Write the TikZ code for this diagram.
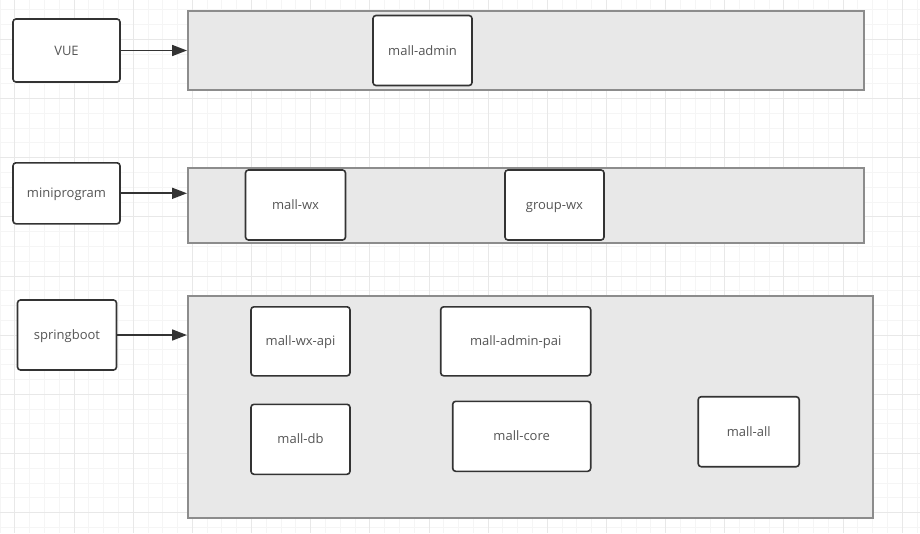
\documentclass[tikz,border=0pt]{standalone}
\usepackage{fontspec}
\setmainfont{Open Sans}
\usetikzlibrary{arrows.meta, positioning, calc}
\definecolor{gridminor}{RGB}{245,245,245}
\definecolor{gridmajor}{RGB}{232,232,232}
\definecolor{layerfill}{RGB}{232,232,232}
\definecolor{layerline}{RGB}{140,140,140}
\definecolor{boxline}{RGB}{51,51,51}
\definecolor{labeltext}{RGB}{85,85,85}

\begin{document}
\begin{tikzpicture}[
            x=1pt, y=-1pt,
            minorline/.style={gridminor, line width=1pt},
            majorline/.style={gridmajor, line width=1pt},
            layer/.style={draw=layerline, line width=2pt, fill=layerfill, rectangle},
            module/.style={draw=boxline, line width=1.6pt, fill=white, rounded corners=3pt,
                text=labeltext, font=\fontsize{13}{15}\selectfont,
                text height=0.9em, text depth=0pt},
            link/.style={-{Triangle[length=15pt, width=11pt]}, line width=1.7pt, boxline},
        ]
            \useasboundingbox (0,0) rectangle (920,533);
            \fill[white] (0,0) rectangle (920,533);

            % Background grid
            \foreach \i in {0,...,62}
                \draw[minorline] ({0.1+14.79*\i},0) -- ({0.1+14.79*\i},533);
            \foreach \i in {0,...,35}
                \draw[minorline] (0,{9.8+14.79*\i}) -- (920,{9.8+14.79*\i});
            \foreach \i in {0,...,15}
                \draw[majorline] ({14.9+59.16*\i},0) -- ({14.9+59.16*\i},533);
            \foreach \i in {0,...,8}
                \draw[majorline] (0,{39.4+59.16*\i}) -- (920,{39.4+59.16*\i});

            % Layers
            \node[layer, minimum width=676pt, minimum height=79pt] (webLayer) at (526,50.5) {};
            \node[layer, minimum width=676pt, minimum height=75pt] (wxLayer) at (526,205) {};
            \node[layer, minimum width=685pt, minimum height=222pt] (apiLayer) at (530.5,406.9) {};

            % Front ends
            \node[module, minimum width=107pt, minimum height=63pt] (vue) at (66.5,50.5) {VUE};
            \node[module, minimum width=107pt, minimum height=61pt] (mini) at (66.5,193.3) {miniprogram};
            \node[module, minimum width=99pt, minimum height=70pt] (spring) at (67,335) {springboot};

            % Modules
            \node[module, minimum width=99pt, minimum height=70pt] (mallAdmin) at (422.5,50.5) {mall-admin};
            \node[module, minimum width=100pt, minimum height=70pt] (mallWx) at (295.5,205) {mall-wx};
            \node[module, minimum width=99pt, minimum height=70pt] (groupWx) at (554.5,205) {group-wx};
            \node[module, minimum width=99pt, minimum height=69pt] (wxApi) at (300.5,341.3) {mall-wx-api};
            \node[module, minimum width=150pt, minimum height=69pt] (adminPai) at (515.7,341.3) {mall-admin-pai};
            \node[module, minimum width=99pt, minimum height=70pt] (mallDb) at (300.5,439.3) {mall-db};
            \node[module, minimum width=138pt, minimum height=70pt] (mallCore) at (521.7,436.3) {mall-core};
            \node[module, minimum width=101pt, minimum height=70pt] (mallAll) at (748.7,431.7) {mall-all};

            % Links
            \draw[link] (vue.east) -- (webLayer.west);
            \draw[link] (mini.east) -- (mini.east -| wxLayer.west);
            \draw[link] (spring.east) -- (spring.east -| apiLayer.west);
        \end{tikzpicture}
\end{document}
